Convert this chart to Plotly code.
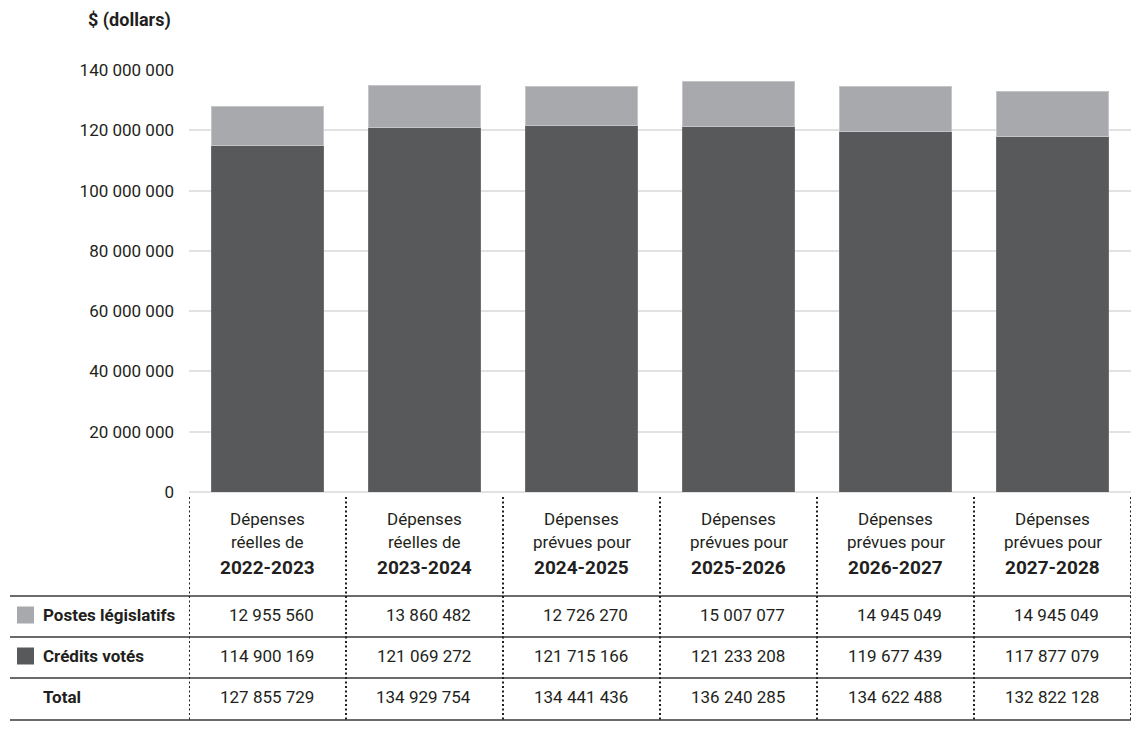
import plotly.graph_objects as go

categories_top = ["Dépenses", "Dépenses", "Dépenses", "Dépenses", "Dépenses", "Dépenses"]
categories_mid = ["réelles de", "réelles de", "prévues pour", "prévues pour", "prévues pour", "prévues pour"]
years = ["2022-2023", "2023-2024", "2024-2025", "2025-2026", "2026-2027", "2027-2028"]
postes_legislatifs = [12955560, 13860482, 12726270, 15007077, 14945049, 14945049]
credits_votes = [114900169, 121069272, 121715166, 121233208, 119677439, 117877079]
totals = [127855729, 134929754, 134441436, 136240285, 134622488, 132822128]
series_names = ["Postes législatifs", "Crédits votés", "Total"]

DARK = "#58595b"
LIGHT = "#a7a9ac"
TXT = "#231f20"
FONT = "Roboto"

OFF = 8  # browser body margin
W, H = 1140 - OFF, 729 - OFF
PL, PR, PT, PB = 189 - OFF, 1131 - OFF, 70 - OFF, 492 - OFF

def py(p):
    return (PB - (p - OFF)) / (PB - PT)

def px(p):
    return ((p - OFF) - PL) / (PR - PL)

def fmt(v):
    return f"{v:,}".replace(",", " ")

xs = list(range(len(years)))
fig = go.Figure()
fig.add_bar(x=xs, y=credits_votes, name=series_names[1], marker=dict(color=DARK, line=dict(color="#6d6e70", width=1)), width=0.715)
fig.add_bar(x=xs, y=postes_legislatifs, name=series_names[0], marker=dict(color=LIGHT, line=dict(color="#c4c5c7", width=1)), width=0.715)

shapes = []
ann = []
# horizontal table lines
for yy in [596, 637, 678, 720]:
    shapes.append(dict(type="line", xref="paper", yref="paper", x0=px(10), x1=px(1131), y0=py(yy), y1=py(yy),
                       line=dict(color="#3a3a3a", width=1.5)))
# dotted vertical lines
for i in range(len(years) + 1):
    shapes.append(dict(type="line", xref="x", yref="paper", x0=i - 0.5, x1=i - 0.5, y0=py(497), y1=py(720),
                       line=dict(color="#231f20", width=2, dash="2px,2.5px")))
# legend squares
for yy, c in [(615, LIGHT), (656, DARK)]:
    shapes.append(dict(type="rect", xref="paper", yref="paper", x0=px(17), x1=px(34), y0=py(yy + 8.5), y1=py(yy - 8.5),
                       fillcolor=c, line=dict(width=0)))

for i in xs:
    ann.append(dict(x=i, y=py(519), xref="x", yref="paper", text=categories_top[i], showarrow=False,
                    font=dict(family=FONT, size=17, color=TXT), xanchor="center", yanchor="middle"))
    ann.append(dict(x=i, y=py(542), xref="x", yref="paper", text=categories_mid[i], showarrow=False,
                    font=dict(family=FONT, size=17, color=TXT), xanchor="center", yanchor="middle"))
    ann.append(dict(x=i, y=py(567), xref="x", yref="paper", text="<b>" + years[i] + "</b>", showarrow=False,
                    font=dict(family=FONT, size=19, color=TXT), xanchor="center", yanchor="middle"))
    for yy, vals in [(615, postes_legislatifs), (656, credits_votes), (697, totals)]:
        ann.append(dict(x=i + 48 / 157, y=py(yy), xref="x", yref="paper", text=fmt(vals[i]), showarrow=False,
                        font=dict(family=FONT, size=17, color=TXT), xanchor="right", yanchor="middle"))

for yy, name in zip([615, 656, 697], series_names):
    ann.append(dict(x=px(41), y=py(yy), xref="paper", yref="paper", text="<b>" + name + "</b>", showarrow=False,
                    font=dict(family=FONT, size=17, color=TXT), xanchor="left", yanchor="middle"))

ann.append(dict(x=px(173), y=py(20), xref="paper", yref="paper", text="<b>$ (dollars)</b>", showarrow=False,
                font=dict(family=FONT, size=18, color=TXT), xanchor="right", yanchor="middle"))

fig.update_layout(
    width=W, height=H,
    margin=dict(l=PL, r=W - PR, t=PT, b=H - PB, pad=0),
    barmode="stack",
    showlegend=False,
    plot_bgcolor="white", paper_bgcolor="white",
    separators=", ",
    shapes=shapes, annotations=ann,
    xaxis=dict(range=[-0.5, 5.5], showticklabels=False, showgrid=False, zeroline=False, fixedrange=True),
    yaxis=dict(range=[0, 140000000], dtick=20000000, tickformat=",d", showgrid=True, gridcolor="#e2e2e2",
               gridwidth=1.5, zeroline=True, zerolinecolor="#e2e2e2", zerolinewidth=1.5,
               ticklabelstandoff=14, tickfont=dict(family=FONT, size=17, color=TXT)),
)

fig.write_html("out.html")
